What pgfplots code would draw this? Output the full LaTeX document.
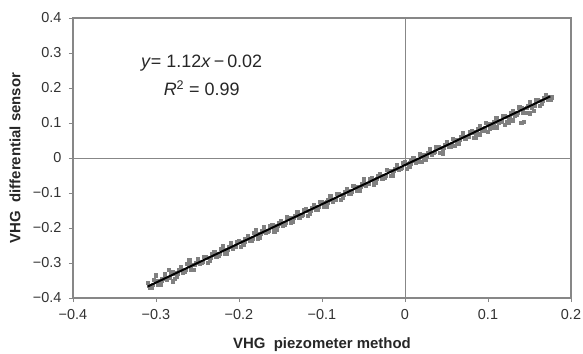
\documentclass[border=0pt]{standalone}
\usepackage{fontspec}
\setmainfont{Liberation Sans}
\usepackage{pgfplots}
\usepackage{pgfplotstable}
\pgfplotsset{compat=1.18}
\definecolor{axgray}{RGB}{135,135,135}
\definecolor{ptgray}{RGB}{128,128,128}
\pgfplotstableread{
x y
-0.310 -0.357
-0.3075 -0.371
-0.3088 -0.364
-0.305 -0.370
-0.3025 -0.348
-0.3038 -0.363
-0.300 -0.350
-0.2975 -0.363
-0.2988 -0.351
-0.295 -0.362
-0.2925 -0.344
-0.2938 -0.350
-0.290 -0.332
-0.2875 -0.348
-0.2888 -0.344
-0.285 -0.343
-0.2825 -0.327
-0.2838 -0.342
-0.280 -0.326
-0.2775 -0.344
-0.2788 -0.329
-0.275 -0.338
-0.2725 -0.320
-0.2738 -0.329
-0.270 -0.312
-0.2675 -0.327
-0.2688 -0.319
-0.265 -0.325
-0.2625 -0.303
-0.2638 -0.319
-0.260 -0.305
-0.2575 -0.318
-0.2588 -0.306
-0.255 -0.318
-0.2525 -0.299
-0.2538 -0.305
-0.250 -0.287
-0.2475 -0.303
-0.2488 -0.299
-0.245 -0.298
-0.2425 -0.283
-0.2438 -0.297
-0.240 -0.281
-0.2375 -0.299
-0.2388 -0.285
-0.235 -0.293
-0.2325 -0.275
-0.2338 -0.284
-0.230 -0.268
-0.2275 -0.282
-0.2288 -0.274
-0.225 -0.280
-0.2225 -0.258
-0.2238 -0.274
-0.220 -0.260
-0.2175 -0.274
-0.2188 -0.261
-0.215 -0.273
-0.2125 -0.254
-0.2138 -0.261
-0.210 -0.242
-0.2075 -0.258
-0.2088 -0.254
-0.205 -0.254
-0.2025 -0.238
-0.2038 -0.252
-0.200 -0.236
-0.1975 -0.254
-0.1988 -0.240
-0.195 -0.248
-0.1925 -0.231
-0.1938 -0.239
-0.190 -0.223
-0.1875 -0.237
-0.1888 -0.230
-0.185 -0.235
-0.1825 -0.213
-0.1838 -0.229
-0.180 -0.216
-0.1775 -0.229
-0.1788 -0.216
-0.175 -0.228
-0.1725 -0.209
-0.1738 -0.216
-0.170 -0.197
-0.1675 -0.214
-0.1688 -0.209
-0.165 -0.209
-0.1625 -0.193
-0.1638 -0.208
-0.160 -0.191
-0.1575 -0.209
-0.1588 -0.195
-0.155 -0.204
-0.1525 -0.186
-0.1538 -0.194
-0.150 -0.178
-0.1475 -0.192
-0.1488 -0.185
-0.145 -0.190
-0.1425 -0.169
-0.1438 -0.184
-0.140 -0.171
-0.1375 -0.184
-0.1388 -0.172
-0.135 -0.183
-0.1325 -0.164
-0.1338 -0.171
-0.130 -0.153
-0.1275 -0.169
-0.1288 -0.164
-0.125 -0.164
-0.1225 -0.148
-0.1238 -0.163
-0.120 -0.146
-0.1175 -0.165
-0.1188 -0.150
-0.115 -0.159
-0.1125 -0.141
-0.1138 -0.150
-0.110 -0.133
-0.1075 -0.147
-0.1088 -0.140
-0.105 -0.146
-0.1025 -0.124
-0.1038 -0.139
-0.100 -0.126
-0.0975 -0.139
-0.0988 -0.127
-0.095 -0.138
-0.0925 -0.120
-0.0938 -0.126
-0.090 -0.108
-0.0875 -0.124
-0.0888 -0.120
-0.085 -0.119
-0.0825 -0.103
-0.0838 -0.118
-0.080 -0.102
-0.0775 -0.120
-0.0788 -0.105
-0.075 -0.114
-0.0725 -0.096
-0.0738 -0.105
-0.070 -0.088
-0.0675 -0.103
-0.0688 -0.095
-0.065 -0.101
-0.0625 -0.079
-0.0638 -0.095
-0.060 -0.081
-0.0575 -0.094
-0.0588 -0.082
-0.055 -0.094
-0.0525 -0.075
-0.0538 -0.081
-0.050 -0.063
-0.0475 -0.079
-0.0488 -0.075
-0.045 -0.074
-0.0425 -0.059
-0.0438 -0.073
-0.040 -0.057
-0.0375 -0.075
-0.0388 -0.061
-0.035 -0.069
-0.0325 -0.051
-0.0338 -0.060
-0.030 -0.044
-0.0275 -0.058
-0.0288 -0.050
-0.025 -0.056
-0.0225 -0.034
-0.0238 -0.050
-0.020 -0.036
-0.0175 -0.050
-0.0188 -0.037
-0.015 -0.049
-0.0125 -0.030
-0.0138 -0.037
-0.010 -0.018
-0.0075 -0.034
-0.0088 -0.030
-0.005 -0.030
-0.0025 -0.014
-0.0038 -0.028
0.000 -0.012
0.0025 -0.030
0.0012 -0.016
0.005 -0.024
0.0075 -0.007
0.0062 -0.015
0.010 0.001
0.0125 -0.013
0.0112 -0.006
0.015 -0.011
0.0175 0.011
0.0162 -0.005
0.020 0.008
0.0225 -0.005
0.0212 0.008
0.025 -0.004
0.0275 0.015
0.0262 0.008
0.030 0.027
0.0325 0.010
0.0312 0.015
0.035 0.015
0.0375 0.031
0.0362 0.017
0.040 0.033
0.0425 0.015
0.0412 0.029
0.045 0.020
0.0475 0.038
0.0462 0.030
0.050 0.046
0.0525 0.032
0.0512 0.039
0.055 0.034
0.0575 0.055
0.0562 0.040
0.060 0.053
0.0625 0.040
0.0612 0.053
0.065 0.041
0.0675 0.060
0.0662 0.053
0.070 0.071
0.0725 0.055
0.0712 0.060
0.075 0.060
0.0775 0.076
0.0762 0.061
0.080 0.078
0.0825 0.059
0.0812 0.074
0.085 0.065
0.0875 0.083
0.0862 0.075
0.090 0.091
0.0925 0.077
0.0912 0.084
0.095 0.078
0.0975 0.100
0.0962 0.085
0.100 0.098
0.1025 0.085
0.1012 0.097
0.105 0.086
0.1075 0.104
0.1062 0.098
0.110 0.116
0.1125 0.100
0.1112 0.105
0.115 0.105
0.1175 0.121
0.1162 0.106
0.120 0.122
0.1225 0.104
0.1212 0.119
0.125 0.110
0.1275 0.128
0.1262 0.119
0.130 0.136
0.1325 0.121
0.1312 0.129
0.135 0.123
0.1375 0.145
0.1362 0.130
0.140 0.143
0.1425 0.130
0.1412 0.142
0.145 0.130
0.1475 0.149
0.1462 0.143
0.150 0.161
0.1525 0.145
0.1512 0.149
0.155 0.150
0.1575 0.165
0.1562 0.151
0.160 0.167
0.1625 0.149
0.1612 0.164
0.165 0.155
0.1675 0.173
0.1662 0.164
0.170 0.180
0.1725 0.166
0.1712 0.174
0.175 0.168
0.1762 0.174
0.140 0.100
0.143 0.104
0.120 0.095
0.125 0.100
0.100 0.075
0.085 0.058
0.060 0.035
0.150 0.128
0.155 0.135
0.110 0.088
0.045 0.012
0.130 0.108
0.065 0.040
0.090 0.068
-0.285 -0.318
-0.260 -0.292
-0.220 -0.250
-0.300 -0.335
-0.180 -0.205
-0.050 -0.058
0.020 -0.010
-0.280 -0.352
}\scatterdata
\begin{document}
\begin{tikzpicture}
\begin{axis}[
  set layers,
  scale only axis,
  width=498bp, height=280bp,
  xmin=-0.4, xmax=0.2, ymin=-0.4, ymax=0.4,
  xtick={-0.4,-0.3,-0.2,-0.1,0,0.1,0.2},
  xticklabels={−0.4,−0.3,−0.2,−0.1,0,0.1,0.2},
  ytick={-0.4,-0.3,-0.2,-0.1,0,0.1,0.2,0.3,0.4},
  yticklabels={−0.4,−0.3,−0.2,−0.1,0,0.1,0.2,0.3,0.4},
  xtick pos=lower, ytick pos=left,
  tick align=outside,
  major tick length=4bp,
  tick style={axgray, line width=0.9bp},
  axis line style={axgray, line width=1.1bp},
  ticklabel style={font=\fontsize{14.5}{16}\selectfont, text=black!80},
  xticklabel style={yshift=-4bp},
  yticklabel style={xshift=-4bp},
  xlabel={VHG\ \ piezometer method},
  ylabel={VHG\ \ differential sensor},
  label style={font=\bfseries\fontsize{15}{17}\selectfont, text=black!85},
  xlabel style={at={(axis description cs:0.5,-0.168)}, anchor=center},
  ylabel style={at={(axis description cs:-0.1165,0.5)}, anchor=center},
  clip=false,
]
\addplot[axgray, line width=0.9bp, forget plot] coordinates {(0,-0.4) (0,0.4)};
\addplot[axgray, line width=0.9bp, forget plot] coordinates {(-0.4,0) (0.2,0)};
\addplot[only marks, mark=square*, mark size=1.6bp, mark options={draw=ptgray, fill=ptgray}] table {\scatterdata};
\addplot[black, line width=2bp, on layer=axis foreground] coordinates {(-0.31,-0.3672) (0.175,0.176)};
\node[font=\fontsize{18}{20}\selectfont, text=black!85] at (axis cs:-0.245,0.271) {\textit{y}= 1.12\textit{x}\,−\,0.02};
\node[font=\fontsize{18}{20}\selectfont, text=black!85] at (axis cs:-0.245,0.200) {\textit{R}\textsuperscript{2} = 0.99};
\end{axis}
\pgfresetboundingbox
\useasboundingbox (-73bp,-56bp) rectangle (510bp,298bp);
\end{tikzpicture}
\end{document}
